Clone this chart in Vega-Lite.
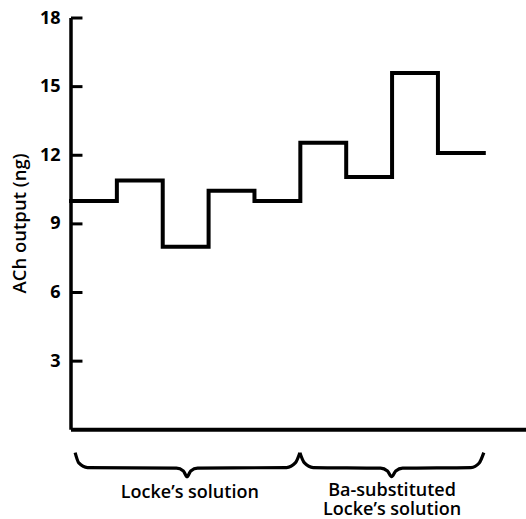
{
  "$schema": "https://vega.github.io/schema/vega-lite/v6.json",
  "width": 455,
  "height": 501,
  "autosize": {"type": "none"},
  "padding": {"left": 71, "top": 18, "right": 0, "bottom": 0},
  "config": {"view": {"stroke": null}, "font": "Open Sans"},
  "datasets": {
    "steps": [
      {"x": 0, "y": 10.0},
      {"x": 1, "y": 10.9},
      {"x": 2, "y": 8.0},
      {"x": 3, "y": 10.45},
      {"x": 4, "y": 10.0},
      {"x": 5, "y": 12.55},
      {"x": 6, "y": 11.05},
      {"x": 7, "y": 15.6},
      {"x": 8, "y": 12.1},
      {"x": 9, "y": 12.1}
    ],
    "braces": [
      {"b": "A", "x": 0.09, "y": -1.0},
      {"b": "A", "x": 0.17, "y": -1.45},
      {"b": "A", "x": 0.36, "y": -1.65},
      {"b": "A", "x": 2.3, "y": -1.68},
      {"b": "A", "x": 2.45, "y": -1.8},
      {"b": "A", "x": 2.53, "y": -2.05},
      {"b": "A", "x": 2.61, "y": -1.8},
      {"b": "A", "x": 2.76, "y": -1.68},
      {"b": "A", "x": 4.7, "y": -1.65},
      {"b": "A", "x": 4.89, "y": -1.45},
      {"b": "A", "x": 4.99, "y": -1.0},
      {"b": "B", "x": 4.99, "y": -1.0},
      {"b": "B", "x": 5.09, "y": -1.45},
      {"b": "B", "x": 5.28, "y": -1.65},
      {"b": "B", "x": 6.75, "y": -1.68},
      {"b": "B", "x": 6.9, "y": -1.8},
      {"b": "B", "x": 6.99, "y": -2.05},
      {"b": "B", "x": 7.08, "y": -1.8},
      {"b": "B", "x": 7.23, "y": -1.68},
      {"b": "B", "x": 8.72, "y": -1.65},
      {"b": "B", "x": 8.9, "y": -1.45},
      {"b": "B", "x": 9.0, "y": -1.0}
    ],
    "labels": [
      {"x": 2.59, "y": -2.75, "label": "Locke’s solution"},
      {"x": 7.0, "y": -2.68, "label": "Ba-substituted\nLocke’s solution"}
    ],
    "ticks": [
      {"x": 0, "x2": 0.25, "y": 3},
      {"x": 0, "x2": 0.25, "y": 6},
      {"x": 0, "x2": 0.25, "y": 9},
      {"x": 0, "x2": 0.25, "y": 12},
      {"x": 0, "x2": 0.25, "y": 15},
      {"x": 0, "x2": 0.25, "y": 18}
    ],
    "yaxis": [{"x": 0, "y": 0, "y2": 18}],
    "xaxis": [{"x": 0, "x2": 9.92, "y": 0}]
  },
  "encoding": {
    "x": {"field": "x", "type": "quantitative", "scale": {"domain": [0, 9.92], "nice": false, "zero": false}, "axis": null},
    "y": {
      "field": "y", "type": "quantitative",
      "scale": {"domain": [-3.9, 18], "nice": false, "zero": false},
      "axis": {
        "title": "ACh output (ng)",
        "values": [3, 6, 9, 12, 15, 18],
        "domain": false, "grid": false, "ticks": false,
        "labelPadding": 11, "labelFontSize": 18, "labelFontWeight": "bold", "labelColor": "black",
        "titleFontSize": 18.5, "titleFontWeight": 600, "titleColor": "black",
        "titleY": 205, "titlePadding": 10
      }
    }
  },
  "layer": [
    {
      "data": {"name": "yaxis"},
      "mark": {"type": "rule", "strokeWidth": 3.5, "color": "black"},
      "encoding": {"y2": {"field": "y2"}}
    },
    {
      "data": {"name": "ticks"},
      "mark": {"type": "rule", "strokeWidth": 3, "color": "black"},
      "encoding": {"x2": {"field": "x2"}}
    },
    {
      "data": {"name": "xaxis"},
      "mark": {"type": "rule", "strokeWidth": 4, "color": "black"},
      "encoding": {"x2": {"field": "x2"}}
    },
    {
      "data": {"name": "steps"},
      "mark": {"type": "line", "interpolate": "step-after", "strokeWidth": 4, "color": "black", "strokeCap": "square"},
      "encoding": {}
    },
    {
      "data": {"name": "braces"},
      "mark": {"type": "line", "interpolate": "monotone", "strokeWidth": 3.2, "color": "black"},
      "encoding": {"detail": {"field": "b"}}
    },
    {
      "data": {"name": "labels"},
      "mark": {"type": "text", "fontSize": 18, "fontWeight": 600, "color": "black", "baseline": "middle", "align": "center", "lineBreak": "\n", "lineHeight": 18.5},
      "encoding": {"text": {"field": "label"}}
    }
  ]
}
